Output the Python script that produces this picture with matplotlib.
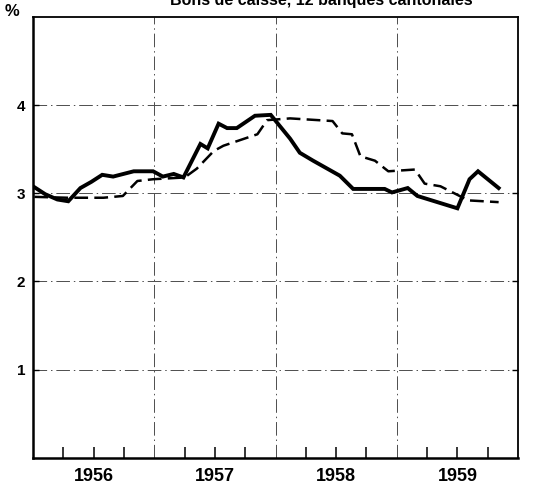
import matplotlib
matplotlib.use("Agg")
import matplotlib.pyplot as plt

# Bons de caisse, 12 banques cantonales (in %)
solid_years = [1956.01, 1956.10, 1956.20, 1956.29, 1956.39, 1956.48, 1956.57, 1956.66,
               1956.83, 1956.99, 1957.07, 1957.16, 1957.24, 1957.38, 1957.44, 1957.53,
               1957.60, 1957.68, 1957.83, 1957.96, 1958.12, 1958.20, 1958.31, 1958.53,
               1958.64, 1958.90, 1958.96, 1959.09, 1959.17, 1959.50, 1959.60, 1959.67,
               1959.84]
solid_vals = [3.07, 2.99, 2.93, 2.91, 3.06, 3.13, 3.21, 3.19,
              3.25, 3.25, 3.19, 3.22, 3.18, 3.56, 3.51, 3.79,
              3.74, 3.74, 3.88, 3.89, 3.62, 3.46, 3.37, 3.20,
              3.05, 3.05, 3.01, 3.06, 2.97, 2.83, 3.16, 3.25,
              3.06]

dashed_years = [1956.01, 1956.28, 1956.58, 1956.74, 1956.86, 1956.99, 1957.25, 1957.35,
                1957.49, 1957.57, 1957.85, 1957.93, 1958.12, 1958.47, 1958.55, 1958.63,
                1958.70, 1958.82, 1958.93, 1959.15, 1959.23, 1959.36, 1959.59, 1959.84]
dashed_vals = [2.96, 2.95, 2.95, 2.97, 3.14, 3.16, 3.18, 3.28,
               3.48, 3.54, 3.67, 3.83, 3.85, 3.82, 3.68, 3.67,
               3.42, 3.37, 3.25, 3.27, 3.11, 3.08, 2.92, 2.90]

years = [1956, 1957, 1958, 1959]
y_ticks = [1, 2, 3, 4]

title = "Bons de caisse, 12 banques cantonales"

plt.rcParams['font.family'] = ['Liberation Sans', 'DejaVu Sans']
plt.rcParams['font.weight'] = 'bold'

fig = plt.figure(figsize=(5.43, 4.86), dpi=100)
ax = fig.add_axes([0.061, 0.058, 0.893, 0.907])

grid_ls = (0, (14, 4, 1.5, 4))
for v in y_ticks:
    ax.axhline(v, color='0.3', lw=0.7, ls=grid_ls, zorder=1)
for yr in years[1:]:
    ax.axvline(yr, color='0.3', lw=0.7, ls=grid_ls, zorder=1)

ax.plot(dashed_years, dashed_vals, color='black', lw=1.8, dashes=(5.5, 2.5), zorder=3)
ax.plot(solid_years, solid_vals, color='black', lw=2.8, solid_joinstyle='miter', zorder=4)

ax.set_xlim(1956, 1960)
ax.set_ylim(0, 5)

# quarterly ticks along the bottom, year labels in the middle of each year
ax.xaxis.remove_overlapping_locs = False
quarters = [y + q / 4 for y in years for q in range(1, 4)]
ax.set_xticks(quarters)
ax.set_xticklabels([])
ax.tick_params(axis='x', direction='in', length=8, width=1.1, bottom=True, top=False)
ax.set_xticks([y + 0.5 for y in years], minor=True)
ax.set_xticklabels([str(y) for y in years], minor=True, fontsize=13)
ax.tick_params(axis='x', which='minor', length=0, pad=7)

ax.set_yticks(y_ticks)
ax.set_yticklabels([str(v) for v in y_ticks], fontsize=11)
ax.tick_params(axis='y', direction='in', length=4, width=1, left=True, right=True, pad=5.5)

for side in ['left', 'bottom']:
    ax.spines[side].set_linewidth(1.8)
for side in ['top', 'right']:
    ax.spines[side].set_linewidth(1.3)

fig.text(0.009, 0.976, "%", fontsize=12, ha='left', va='center')
fig.text(0.592, 0.989, title, fontsize=11.5, ha='center', va='baseline')

fig.savefig("out.png", dpi=100)
